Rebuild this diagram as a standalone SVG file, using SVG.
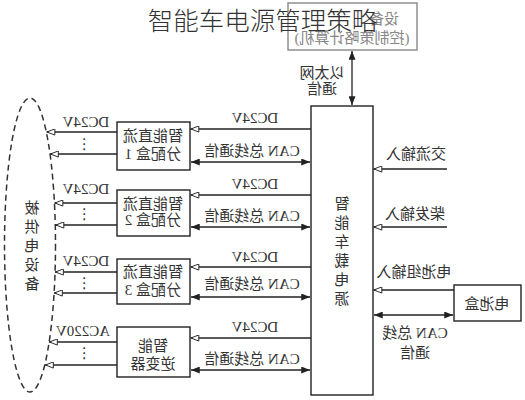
<svg xmlns="http://www.w3.org/2000/svg" width="525" height="400" viewBox="0 0 525 400">
<style>
text{font-family:"Liberation Serif","Noto Sans CJK SC",serif;font-size:15px;fill:#333;text-anchor:middle}
.box{fill:#fff;stroke:#222;stroke-width:1.4}
.ln{stroke:#222;stroke-width:1.3;fill:none}
.o{marker-end:url(#open)}
.d{marker-start:url(#fill);marker-end:url(#fill)}
.dots{font-family:"DejaVu Sans",sans-serif;font-size:15px}
.title{font-family:"Noto Sans CJK SC",sans-serif;font-size:25.5px;font-weight:300;fill:#333;transform:none}
</style>
<defs>
<marker id="open" viewBox="0 0 10 8" refX="10" refY="4" markerWidth="10" markerHeight="7" markerUnits="userSpaceOnUse" orient="auto"><path d="M0.5,0.5 L9.5,4 L0.5,7.5 z" fill="#fff" stroke="#222" stroke-width="1.1"/></marker>
<marker id="fill" viewBox="0 0 10 8" refX="10" refY="4" markerWidth="10" markerHeight="7" markerUnits="userSpaceOnUse" orient="auto-start-reverse"><path d="M0,0 L10,4 L0,8 z" fill="#222"/></marker>
</defs>
<rect width="525" height="400" fill="#fff"/>

<g id="top-device">
<rect x="288" y="3" width="129" height="47" fill="#fff" stroke="#888" stroke-width="1.4"/>
<text transform="scale(-1,1)" x="-384" y="24" style="fill:#888">设备</text>
<text transform="scale(-1,1)" x="-352" y="43" style="fill:#888">(控制策略计算机)</text>
</g>

<g id="power-source">
<rect class="box" x="311" y="106" width="62" height="289"/>
<text transform="scale(-1,1)" x="-342" y="208.5">智<tspan x="-342" dy="19">能</tspan><tspan x="-342" dy="19">车</tspan><tspan x="-342" dy="19">载</tspan><tspan x="-342" dy="19">电</tspan><tspan x="-342" dy="19">源</tspan></text>
</g>

<g id="box1">
<rect class="box" x="117" y="122" width="73" height="48"/>
<text transform="scale(-1,1)" x="-153" y="140.5">智能直流</text>
<text transform="scale(-1,1)" x="-153" y="159">分配盒 1</text>
</g>
<g id="box2">
<rect class="box" x="117" y="190" width="73" height="46"/>
<text transform="scale(-1,1)" x="-153" y="208.5">智能直流</text>
<text transform="scale(-1,1)" x="-153" y="225">分配盒 2</text>
</g>
<g id="box3">
<rect class="box" x="117" y="259" width="73" height="45"/>
<text transform="scale(-1,1)" x="-153" y="276.5">智能直流</text>
<text transform="scale(-1,1)" x="-153" y="295">分配盒 3</text>
</g>
<g id="inverter">
<rect class="box" x="117" y="327" width="73" height="50"/>
<text transform="scale(-1,1)" x="-153" y="350.5">智能</text>
<text transform="scale(-1,1)" x="-153" y="368.5">逆变器</text>
</g>

<g id="battery">
<rect class="box" x="454" y="285" width="67" height="36"/>
<text transform="scale(-1,1)" x="-487" y="308.5">电池盒</text>
</g>

<g id="loads">
<ellipse cx="30" cy="245" rx="25.5" ry="147" fill="none" stroke="#333" stroke-width="1.5" stroke-dasharray="6,4"/>
<text transform="scale(-1,1)" x="-32" y="212.5">被<tspan x="-32" dy="19">供</tspan><tspan x="-32" dy="19">电</tspan><tspan x="-32" dy="19">设</tspan><tspan x="-32" dy="19">备</tspan></text>
</g>

<g id="connectors">
<line class="ln d" x1="352" y1="51" x2="352" y2="105"/>
<text transform="scale(-1,1)" x="-322" y="77.5">以太网</text>
<text transform="scale(-1,1)" x="-322" y="93.5">通信</text>

<line class="ln o" x1="447" y1="169" x2="373.5" y2="169"/>
<text transform="scale(-1,1)" x="-416" y="158.5">交流输入</text>
<line class="ln o" x1="447" y1="227" x2="373.5" y2="227"/>
<text transform="scale(-1,1)" x="-415" y="218.5">柴发输入</text>
<line class="ln o" x1="454" y1="290" x2="373.5" y2="290"/>
<text transform="scale(-1,1)" x="-414" y="276.5">电池组输入</text>
<line class="ln d" x1="374" y1="315" x2="453" y2="315"/>
<text transform="scale(-1,1)" x="-415" y="337.5">CAN 总线</text>
<text transform="scale(-1,1)" x="-415" y="357.5">通信</text>

<line class="ln o" x1="311" y1="129" x2="190.5" y2="129"/>
<text transform="scale(-1,1)" x="-255" y="123">DC24V</text>
<line class="ln d" x1="191" y1="162" x2="310" y2="162"/>
<text transform="scale(-1,1)" x="-252" y="155.5">CAN 总线通信</text>
<line class="ln o" x1="117" y1="132" x2="46.5" y2="132"/>
<line class="ln o" x1="117" y1="154" x2="50" y2="154"/>
<text transform="scale(-1,1)" x="-86" y="127">DC24V</text>
<text class="dots" transform="scale(-1,1)" x="-84" y="149">⋮</text>

<line class="ln o" x1="311" y1="195" x2="190.5" y2="195"/>
<text transform="scale(-1,1)" x="-255" y="189">DC24V</text>
<line class="ln d" x1="191" y1="227" x2="310" y2="227"/>
<text transform="scale(-1,1)" x="-252" y="220.5">CAN 总线通信</text>
<line class="ln o" x1="117" y1="203" x2="54.5" y2="203"/>
<line class="ln o" x1="117" y1="225" x2="55.5" y2="225"/>
<text transform="scale(-1,1)" x="-86" y="194">DC24V</text>
<text class="dots" transform="scale(-1,1)" x="-84" y="219">⋮</text>

<line class="ln o" x1="311" y1="267" x2="190.5" y2="267"/>
<text transform="scale(-1,1)" x="-255" y="262">DC24V</text>
<line class="ln d" x1="191" y1="297" x2="310" y2="297"/>
<text transform="scale(-1,1)" x="-252" y="288.5">CAN 总线通信</text>
<line class="ln o" x1="117" y1="272" x2="55" y2="272"/>
<line class="ln o" x1="117" y1="293" x2="54" y2="293"/>
<text transform="scale(-1,1)" x="-86" y="266">DC24V</text>
<text class="dots" transform="scale(-1,1)" x="-84" y="288">⋮</text>

<line class="ln o" x1="311" y1="338" x2="190.5" y2="338"/>
<text transform="scale(-1,1)" x="-255" y="332">DC24V</text>
<line class="ln d" x1="191" y1="370" x2="310" y2="370"/>
<text transform="scale(-1,1)" x="-252" y="363.5">CAN 总线通信</text>
<line class="ln o" x1="117" y1="342" x2="49" y2="342"/>
<line class="ln o" x1="117" y1="365" x2="45" y2="365"/>
<text transform="scale(-1,1)" x="-83" y="336">AC220V</text>
<text class="dots" transform="scale(-1,1)" x="-84" y="358">⋮</text>
</g>

<text class="title" x="262.5" y="30">智能车电源管理策略</text>
</svg>
